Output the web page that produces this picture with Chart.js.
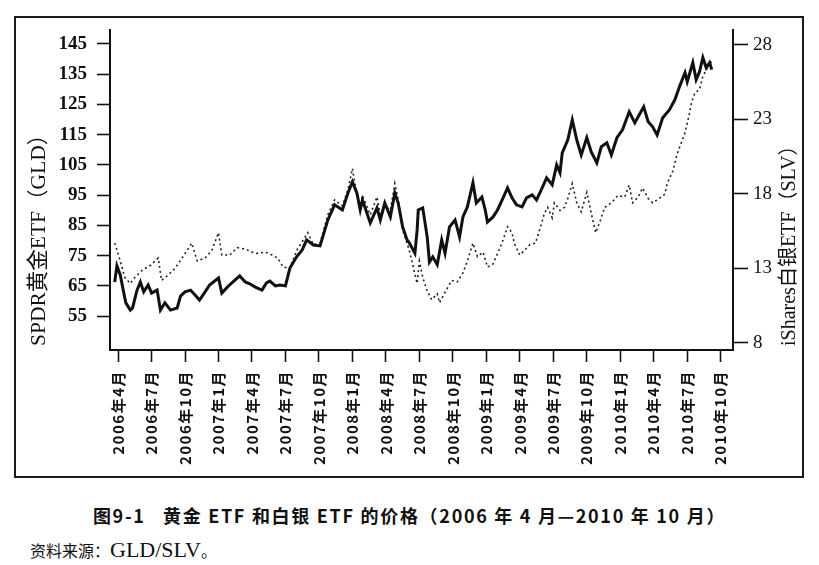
<!DOCTYPE html>
<html>
<head>
<meta charset="utf-8">
<script src="https://cdn.jsdelivr.net/npm/chart.js@4.4.1/dist/chart.umd.min.js"></script>
<style>
  html, body { margin: 0; padding: 0; background: #fff; }
  body { width: 819px; height: 565px; position: relative; overflow: hidden; }
  #frame { position: absolute; left: 14px; top: 16px; width: 786px; height: 458px; border: 2px solid #1a1a1a; }
  #chart { position: absolute; left: 0; top: 0; }
  #caption { position: absolute; left: 0; top: 502px; width: 819px; text-align: center; white-space: nowrap;
    font: bold 18px "Noto Sans CJK SC", sans-serif; letter-spacing: 1.7px; color: #111; line-height: 26px; }
  #source { position: absolute; left: 30px; top: 537px; white-space: nowrap;
    font: 16px "Noto Sans CJK SC", sans-serif; color: #111; line-height: 26px; }
  #source .lat { font: 22px "Liberation Serif", serif; }
</style>
</head>
<body>
<div id="frame"></div>
<canvas id="chart" width="819" height="480"></canvas>
<div id="caption">图9-1&nbsp;&nbsp;&nbsp;黄金 ETF 和白银 ETF 的价格（2006 年 4 月—2010 年 10 月）</div>
<div id="source">资料来源：<span class="lat">GLD/SLV</span>。</div>
<script>
// ---------- Dados (meses contados a partir de abril de 2006) ----------
const xLabels = ['2006年4月', '2006年7月', '2006年10月', '2007年1月', '2007年4月', '2007年7月',
  '2007年10月', '2008年1月', '2008年4月', '2008年7月', '2008年10月', '2009年1月', '2009年4月',
  '2009年7月', '2009年10月', '2010年1月', '2010年4月', '2010年7月', '2010年10月'];
const goldTicks = [55, 65, 75, 85, 95, 105, 115, 125, 135, 145];
const silverTicks = [8, 13, 18, 23, 28];

const goldMonths = [
  -0.3, -0.1, 0.2, 0.5, 0.7, 1.1, 1.3, 1.7, 2.0, 2.3,
  2.7, 3.0, 3.5, 3.8, 4.2, 4.7, 5.3, 5.6, 6.0, 6.5,
  6.9, 7.3, 7.8, 8.2, 9.0, 9.3, 9.9, 10.5, 10.9, 11.4,
  11.8, 12.3, 12.9, 13.3, 13.6, 14.1, 14.5, 15.0, 15.4, 16.0,
  16.5, 16.9, 17.5, 18.1, 18.8, 19.4, 20.1, 20.6, 21.0, 21.4,
  21.7, 21.9, 22.6, 23.2, 23.5, 23.9, 24.4, 24.8, 25.1, 25.5,
  25.9, 26.1, 26.6, 26.8, 26.9, 27.3, 27.7, 27.9, 28.2, 28.6,
  29.0, 29.3, 29.7, 30.2, 30.6, 30.9, 31.3, 31.8, 32.1, 32.6,
  32.9, 33.1, 33.6, 34.0, 34.5, 34.9, 35.3, 35.7, 36.2, 36.6,
  37.1, 37.5, 38.0, 38.4, 38.9, 39.3, 39.6, 39.8, 40.3, 40.7,
  41.1, 41.5, 42.0, 42.4, 42.9, 43.3, 43.8, 44.2, 44.7, 45.2,
  45.8, 46.3, 46.7, 47.1, 47.5, 47.9, 48.3, 48.8, 49.4, 49.9,
  50.3, 50.8, 51.0, 51.5, 51.8, 52.1, 52.4, 52.7, 53.0, 53.2
];
const goldPrices = [
  66.3, 71.6, 68.6, 63.0, 59.4, 57.0, 57.7, 63.6, 66.3, 63.0,
  65.3, 62.6, 63.6, 57.0, 59.4, 57.0, 57.7, 61.6, 63.0, 63.6,
  62.0, 60.3, 63.0, 65.3, 67.6, 62.6, 65.0, 67.0, 68.3, 66.3,
  65.7, 64.6, 63.6, 66.0, 66.6, 65.0, 65.3, 65.0, 70.9, 74.6,
  76.9, 80.2, 78.5, 78.2, 86.8, 91.8, 90.1, 95.7, 99.4, 95.7,
  90.1, 93.4, 85.8, 90.8, 86.8, 92.4, 87.8, 95.7, 92.4, 84.5,
  80.2, 79.2, 75.8, 83.5, 90.1, 90.8, 81.2, 72.9, 74.6, 72.0,
  80.2, 75.8, 84.5, 86.8, 81.2, 87.8, 91.1, 99.1, 92.4, 94.4,
  90.1, 86.1, 87.8, 90.1, 94.1, 97.4, 94.1, 91.8, 91.1, 94.1,
  95.1, 93.4, 97.4, 100.7, 98.4, 105.0, 102.4, 109.0, 113.3, 119.9,
  113.3, 108.3, 114.0, 109.3, 105.7, 111.0, 112.3, 108.3, 114.0, 116.6,
  122.6, 118.9, 121.6, 124.2, 119.3, 117.6, 114.9, 120.6, 123.2, 126.6,
  130.8, 135.5, 132.5, 138.8, 133.2, 135.8, 140.5, 137.1, 138.8, 136.5
];

const silverMonths = [
  -0.3, 0.0, 0.2, 0.6, 1.1, 1.5, 2.2, 2.9, 3.6, 3.9,
  4.4, 5.1, 6.0, 6.6, 7.1, 7.8, 8.4, 9.0, 9.3, 10.0,
  10.7, 11.4, 12.3, 13.2, 13.8, 14.3, 14.8, 15.4, 16.0, 17.0,
  17.5, 18.1, 18.8, 19.4, 20.1, 20.6, 21.0, 21.4, 21.7, 21.9,
  22.6, 23.2, 23.5, 23.9, 24.4, 24.8, 25.1, 25.5, 26.1, 26.8,
  27.0, 27.3, 27.7, 28.1, 28.6, 28.8, 29.3, 29.9, 30.4, 30.9,
  31.3, 31.8, 32.2, 32.7, 33.1, 33.6, 34.0, 34.4, 34.9, 35.3,
  35.5, 36.0, 36.4, 36.9, 37.4, 37.9, 38.2, 38.5, 38.9, 39.1,
  39.6, 40.0, 40.3, 40.7, 41.1, 41.5, 42.0, 42.4, 42.8, 43.2,
  43.6, 44.2, 44.8, 45.4, 45.8, 46.1, 46.6, 47.0, 47.5, 47.9,
  48.5, 49.0, 49.2, 49.7, 50.1, 50.8, 51.2, 51.4, 51.7, 52.1,
  52.4, 52.7, 53.0, 53.2
];
const silverPrices = [
  14.7, 14.0, 13.5, 12.4, 12.0, 12.4, 12.9, 13.2, 13.7, 12.2,
  12.5, 13.0, 14.0, 14.7, 13.5, 13.7, 14.2, 15.4, 13.9, 13.9,
  14.4, 14.3, 14.0, 14.1, 13.9, 13.7, 13.1, 13.0, 14.2, 15.4,
  14.6, 14.7, 16.6, 17.6, 17.2, 18.3, 19.7, 17.9, 17.2, 17.9,
  16.6, 17.8, 16.6, 17.2, 16.9, 18.7, 17.6, 15.6, 14.2, 12.0,
  13.5, 12.4, 11.5, 10.9, 11.3, 10.7, 11.4, 12.2, 12.1, 12.7,
  13.5, 14.7, 13.8, 14.1, 13.1, 13.3, 14.0, 14.7, 15.8, 15.4,
  14.7, 13.9, 14.2, 14.6, 14.7, 15.9, 16.7, 17.1, 16.4, 17.4,
  16.9, 17.1, 17.7, 18.7, 17.4, 16.8, 18.1, 16.7, 15.4, 16.2,
  17.1, 17.4, 17.9, 17.8, 18.6, 17.4, 17.8, 18.4, 17.7, 17.4,
  17.7, 18.0, 18.7, 19.5, 20.7, 22.1, 23.4, 24.2, 24.8, 25.0,
  25.9, 26.3, 26.9, 26.8
];

const leftTitle = 'SPDR黄金ETF（GLD）';
const rightTitle = 'iShares白银ETF（SLV）';
const ink = '#111';

// Títulos dos eixos (o da direita lê de baixo para cima, como no original)
function drawVerticalTitle(ctx, text, x, y, size) {
  ctx.save();
  ctx.fillStyle = ink;
  ctx.font = size + 'px "Liberation Serif", "Noto Sans CJK SC", serif';
  ctx.textBaseline = 'middle';
  ctx.textAlign = 'left';
  ctx.translate(x, y);
  ctx.rotate(-Math.PI / 2);
  ctx.fillText(text, 0, 0);
  ctx.restore();
}

const axisTitles = {
  id: 'axisTitles',
  afterLayout(chart) {
    // espaçamento entre letras só nos rótulos das datas
    const s = chart.scales.x;
    if (!s._spaced) {
      const orig = s.drawLabels.bind(s);
      s.drawLabels = function (area) {
        const c = this.ctx;
        const prev = c.letterSpacing;
        c.letterSpacing = '1.5px';
        orig(area);
        c.letterSpacing = prev;
      };
      s._spaced = true;
    }
  },
  afterDraw(chart) {
    drawVerticalTitle(chart.ctx, leftTitle, 39, 346, 21.5);
    drawVerticalTitle(chart.ctx, rightTitle, 790, 346, 20);
  }
};

function fixedTicks(values) {
  return function (scale) {
    scale.ticks = values.map(v => ({ value: v }));
  };
}

const ctx = document.getElementById('chart').getContext('2d');
new Chart(ctx, {
  type: 'line',
  data: {
    datasets: [{
      label: 'GLD',
      data: goldMonths.map((m, i) => ({ x: m, y: goldPrices[i] })),
      yAxisID: 'yGold',
      borderColor: ink,
      borderWidth: 3,
      pointRadius: 0,
      tension: 0
    }, {
      label: 'SLV',
      data: silverMonths.map((m, i) => ({ x: m, y: silverPrices[i] })),
      yAxisID: 'ySilver',
      borderColor: '#222',
      borderWidth: 1.6,
      borderDash: [2, 3],
      pointRadius: 0,
      tension: 0
    }]
  },
  options: {
    responsive: false,
    animation: false,
    events: [],
    layout: { padding: { left: 14, right: 16, top: 30, bottom: 10 } },
    plugins: { legend: { display: false }, tooltip: { enabled: false } },
    scales: {
      x: {
        type: 'linear',
        min: -0.72,
        max: 55.1,
        afterFit: (s) => { s.height = 120; },
        afterBuildTicks: fixedTicks(xLabels.map((_, i) => i * 3)),
        border: { display: true, width: 2, color: ink },
        grid: { drawOnChartArea: false, drawTicks: true, tickLength: 12, tickWidth: 1.6, tickColor: ink },
        ticks: {
          autoSkip: false,
          maxRotation: 90,
          minRotation: 90,
          padding: 8,
          color: ink,
          font: { family: '"Noto Sans CJK SC", sans-serif', size: 15, weight: 'bold' },
          callback: (v) => xLabels[Math.round(v / 3)]
        }
      },
      yGold: {
        type: 'linear',
        position: 'left',
        min: 43.8,
        max: 149.6,
        afterFit: (s) => { s.width = 96; },
        afterBuildTicks: fixedTicks(goldTicks),
        border: { display: true, width: 2, color: ink },
        grid: { drawOnChartArea: false, drawTicks: true, tickLength: 13, tickWidth: 1.6, tickColor: ink },
        ticks: {
          padding: 10,
          color: ink,
          font: { family: '"Liberation Serif", serif', size: 19, weight: 'bold' }
        }
      },
      ySilver: {
        type: 'linear',
        position: 'right',
        min: 7.53,
        max: 29.0,
        afterFit: (s) => { s.width = 70; },
        afterBuildTicks: fixedTicks(silverTicks),
        border: { display: true, width: 2, color: ink },
        grid: { drawOnChartArea: false, drawTicks: true, tickLength: 15, tickWidth: 1.6, tickColor: ink },
        ticks: {
          padding: 5,
          color: ink,
          font: { family: '"Liberation Serif", serif', size: 19 }
        }
      }
    }
  },
  plugins: [axisTitles]
});
</script>
</body>
</html>
